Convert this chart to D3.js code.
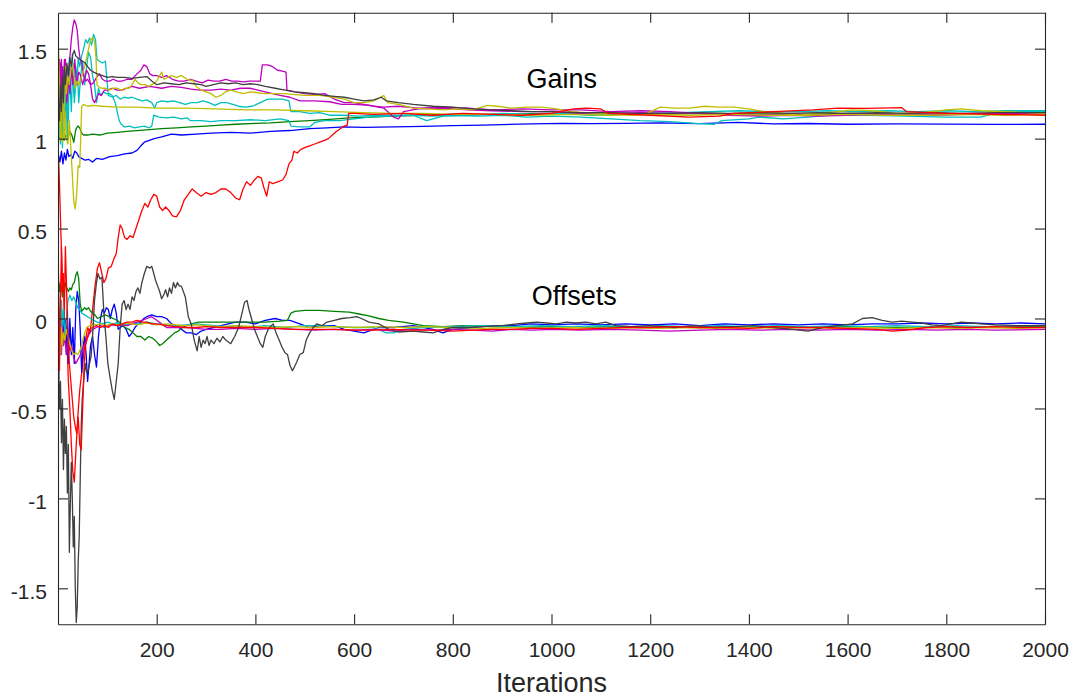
<!DOCTYPE html>
<html>
<head>
<meta charset="utf-8">
<script src="https://cdn.jsdelivr.net/npm/d3@7"></script>
<style>
body { margin: 0; background: #fff; }
text { font-family: "Liberation Sans", Arial, Helvetica, sans-serif; }
</style>
</head>
<body>
<div id="chart"></div>
<script>
//tick labels
var xTicks = [200, 400, 600, 800, 1000, 1200, 1400, 1600, 1800, 2000];
var yTicks = [-1.5, -1, -0.5, 0, 0.5, 1, 1.5];

//gain estimates, [iteration, value]
var gainBlue = [[1,0.91],[4,0.87],[7,0.93],[10,0.86],[13,0.92],[16,0.88],[19,0.94],[22,0.90],[26,0.91],[30,0.89],[34,0.93],[38,0.92],[42,0.90],[48,0.89],[55,0.88],[62,0.885],[70,0.87],[78,0.89],[90,0.885],[105,0.9],[120,0.905],[135,0.915],[150,0.92],[160,0.935],[168,0.96],[175,0.98],[185,0.99],[195,1.0],[210,1.01],[230,1.025],[250,1.02],[280,1.025],[310,1.03],[350,1.035],[390,1.03],[430,1.04],[470,1.045],[510,1.055],[545,1.06],[580,1.065],[620,1.062],[680,1.065],[740,1.068],[800,1.072],[860,1.075],[900,1.078],[960,1.082],[1020,1.085],[1080,1.083],[1150,1.085],[1220,1.087],[1300,1.083],[1378,1.09],[1450,1.082],[1520,1.084],[1600,1.08],[1700,1.082],[1800,1.081],[1900,1.079],[2000,1.08]];
var gainGreen = [[1,1.01],[4,1.0],[8,1.03],[12,0.99],[16,1.02],[20,1.0],[24,1.04],[28,1.02],[32,0.98],[36,1.05],[40,1.07],[44,1.06],[48,1.03],[52,1.02],[60,1.02],[70,1.025],[85,1.02],[100,1.03],[120,1.035],[140,1.04],[160,1.045],[186,1.05],[210,1.055],[240,1.06],[270,1.065],[300,1.07],[330,1.075],[360,1.08],[400,1.085],[430,1.087],[470,1.095],[510,1.1],[550,1.107],[590,1.115],[632,1.12],[680,1.125],[740,1.13],[800,1.135],[900,1.135],[1000,1.14],[1100,1.138],[1200,1.135],[1300,1.14],[1400,1.138],[1500,1.135],[1600,1.14],[1700,1.138],[1800,1.135],[1900,1.14],[2000,1.14]];
var gainRed = [[1,0.9],[3,0.75],[5,0.55],[7,0.38],[9,0.2],[11,0.25],[13,0.0],[15,-0.15],[18,-0.1],[21,-0.35],[24,-0.5],[27,-0.7],[30,-0.85],[33,-0.91],[36,-0.75],[40,-0.55],[44,-0.4],[48,-0.3],[52,-0.2],[56,-0.12],[60,-0.05],[65,-0.08],[70,0.05],[75,0.18],[80,0.28],[84,0.31],[88,0.26],[93,0.2],[97,0.22],[102,0.28],[108,0.29],[113,0.33],[118,0.36],[122,0.45],[126,0.52],[130,0.5],[135,0.45],[140,0.44],[146,0.46],[152,0.45],[158,0.5],[164,0.55],[170,0.6],[176,0.64],[182,0.62],[188,0.66],[194,0.69],[200,0.68],[206,0.62],[212,0.6],[218,0.62],[225,0.6],[232,0.57],[240,0.565],[248,0.6],[256,0.66],[264,0.69],[272,0.72],[280,0.7],[290,0.68],[300,0.7],[310,0.69],[320,0.7],[330,0.72],[340,0.72],[350,0.7],[360,0.67],[368,0.66],[375,0.72],[382,0.76],[390,0.74],[398,0.77],[405,0.79],[412,0.78],[418,0.72],[423,0.68],[428,0.76],[435,0.75],[445,0.76],[455,0.77],[462,0.8],[468,0.86],[474,0.88],[478,0.93],[485,0.92],[492,0.94],[500,0.95],[510,0.96],[520,0.97],[530,0.98],[540,0.99],[548,1.0],[556,1.02],[564,1.04],[572,1.055],[580,1.07],[586,1.075],[589,1.14],[600,1.14],[640,1.135],[700,1.14],[760,1.13],[820,1.14],[880,1.135],[940,1.13],[1000,1.14],[1045,1.165],[1070,1.17],[1100,1.165],[1115,1.14],[1200,1.13],[1280,1.12],[1340,1.125],[1370,1.14],[1450,1.15],[1530,1.16],[1580,1.17],[1640,1.168],[1710,1.172],[1720,1.15],[1800,1.14],[1900,1.135],[2000,1.13]];
var gainCyanA = [[1,1.0],[3,1.15],[5,0.97],[7,1.3],[9,1.05],[11,1.38],[13,1.12],[15,1.42],[17,1.2],[19,1.36],[21,1.1],[23,1.45],[26,1.3],[29,1.47],[32,1.25],[35,1.4],[38,1.3],[41,1.45],[44,1.4],[48,1.46],[52,1.5],[56,1.55],[60,1.53],[64,1.56],[68,1.52],[72,1.58],[76,1.55],[79,1.44],[84,1.43],[90,1.42],[96,1.43],[100,1.3],[102,1.24],[110,1.23],[118,1.24],[126,1.22],[134,1.23],[142,1.225],[150,1.23],[160,1.22],[170,1.21],[180,1.215],[190,1.2],[196,1.17],[200,1.2],[210,1.21],[222,1.205],[234,1.21],[246,1.2],[258,1.19],[270,1.2],[282,1.2],[294,1.21],[306,1.2],[318,1.185],[330,1.2],[342,1.2],[354,1.19],[366,1.18],[380,1.175],[394,1.18],[410,1.2],[425,1.22],[440,1.22],[455,1.22],[468,1.21],[472,1.15],[490,1.15],[510,1.14],[530,1.145],[550,1.13],[580,1.13],[610,1.125],[640,1.13],[680,1.13],[720,1.13],[760,1.125],[800,1.13],[850,1.125],[900,1.13],[950,1.12],[1000,1.125],[1060,1.12],[1120,1.11],[1180,1.1],[1240,1.095],[1290,1.085],[1330,1.08],[1345,1.1],[1400,1.11],[1420,1.12],[1470,1.11],[1520,1.12],[1560,1.13],[1640,1.13],[1720,1.125],[1800,1.12],[1870,1.12],[1910,1.15],[1960,1.15],[2000,1.15]];
var gainCyanB = [[1,1.05],[3,1.3],[5,1.0],[7,1.2],[9,0.95],[11,1.15],[13,1.4],[15,1.05],[17,1.3],[19,1.0],[21,1.25],[24,1.35],[27,1.15],[30,1.42],[33,1.2],[36,1.3],[39,1.4],[42,1.2],[46,1.35],[50,1.43],[54,1.3],[58,1.4],[62,1.48],[66,1.45],[70,1.35],[74,1.3],[78,1.2],[82,1.28],[86,1.24],[92,1.26],[98,1.25],[104,1.25],[110,1.24],[116,1.2],[120,1.15],[124,1.1],[128,1.08],[135,1.065],[145,1.07],[155,1.06],[165,1.065],[175,1.07],[185,1.06],[190,1.07],[194,1.13],[205,1.12],[220,1.115],[235,1.12],[250,1.11],[262,1.115],[268,1.1],[290,1.1],[310,1.095],[330,1.1],[360,1.1],[390,1.105],[420,1.1],[450,1.11],[468,1.1],[472,1.07],[490,1.065],[510,1.065],[520,1.09],[540,1.1],[570,1.1],[600,1.11],[630,1.12],[670,1.125],[720,1.13],[747,1.1],[780,1.125],[840,1.13],[900,1.14],[960,1.135],[1020,1.14],[1080,1.13],[1140,1.135],[1200,1.14],[1260,1.145],[1320,1.15],[1380,1.155],[1440,1.15],[1500,1.15],[1560,1.155],[1620,1.15],[1680,1.155],[1740,1.15],[1800,1.155],[1860,1.15],[1920,1.155],[2000,1.155]];
var gainMagentaA = [[1,1.2],[3,1.44],[5,1.35],[7,1.44],[9,1.22],[11,1.3],[13,1.44],[15,1.3],[18,1.4],[21,1.35],[24,1.45],[27,1.55],[30,1.62],[33,1.66],[36,1.64],[39,1.6],[42,1.5],[45,1.44],[48,1.42],[52,1.35],[56,1.32],[60,1.33],[66,1.3],[72,1.31],[78,1.34],[84,1.36],[90,1.33],[96,1.32],[104,1.32],[112,1.33],[120,1.32],[130,1.32],[140,1.33],[150,1.33],[160,1.36],[168,1.38],[174,1.41],[180,1.4],[186,1.36],[192,1.35],[200,1.35],[210,1.34],[220,1.35],[232,1.33],[244,1.32],[256,1.32],[268,1.33],[280,1.32],[292,1.31],[304,1.325],[316,1.32],[328,1.32],[340,1.33],[352,1.32],[364,1.32],[376,1.315],[388,1.32],[400,1.32],[410,1.32],[414,1.41],[425,1.41],[435,1.4],[445,1.38],[455,1.375],[462,1.37],[464,1.27],[480,1.26],[500,1.25],[520,1.245],[540,1.25],[560,1.22],[580,1.2],[600,1.2],[620,1.19],[640,1.18],[660,1.175],[690,1.18],[730,1.17],[780,1.175],[830,1.17],[880,1.16],[940,1.165],[1000,1.16],[1060,1.16],[1120,1.15],[1180,1.155],[1240,1.15],[1300,1.14],[1360,1.135],[1420,1.13],[1480,1.14],[1540,1.13],[1600,1.14],[1660,1.135],[1720,1.14],[1780,1.135],[1840,1.14],[1900,1.14],[1960,1.14],[2000,1.145]];
var gainMagentaB = [[1,1.3],[3,1.2],[5,1.42],[7,1.25],[9,1.4],[11,1.1],[13,1.3],[15,1.44],[18,1.2],[21,1.35],[24,1.25],[27,1.4],[30,1.3],[34,1.44],[38,1.3],[42,1.37],[46,1.35],[50,1.3],[54,1.34],[58,1.38],[62,1.36],[66,1.3],[70,1.22],[74,1.2],[78,1.22],[82,1.25],[88,1.24],[94,1.27],[100,1.27],[110,1.28],[120,1.27],[130,1.27],[140,1.28],[150,1.29],[165,1.28],[186,1.29],[210,1.28],[230,1.29],[250,1.285],[270,1.275],[288,1.27],[310,1.27],[330,1.275],[350,1.27],[370,1.28],[389,1.28],[405,1.27],[420,1.26],[435,1.25],[450,1.24],[470,1.23],[490,1.21],[520,1.21],[550,1.205],[575,1.19],[600,1.19],[632,1.185],[660,1.17],[680,1.12],[690,1.11],[700,1.15],[730,1.165],[780,1.17],[830,1.16],[880,1.155],[940,1.15],[1000,1.15],[1060,1.14],[1120,1.14],[1180,1.145],[1240,1.14],[1300,1.14],[1360,1.13],[1420,1.125],[1480,1.13],[1540,1.125],[1600,1.13],[1660,1.135],[1720,1.13],[1780,1.13],[1840,1.135],[1900,1.14],[1960,1.135],[2000,1.14]];
var gainYellowA = [[1,1.5],[3,1.3],[5,1.1],[7,1.0],[9,0.98],[11,1.05],[13,1.0],[15,1.15],[17,1.0],[20,0.97],[23,1.1],[26,0.95],[29,0.8],[32,0.65],[35,0.61],[38,0.7],[41,0.85],[44,0.84],[46,1.0],[48,1.18],[52,1.19],[60,1.18],[70,1.185],[90,1.18],[120,1.175],[160,1.175],[200,1.17],[260,1.17],[320,1.165],[380,1.16],[440,1.16],[500,1.155],[560,1.15],[620,1.145],[680,1.14],[740,1.14],[800,1.135],[880,1.135],[960,1.13],[1040,1.135],[1120,1.13],[1200,1.135],[1280,1.13],[1360,1.135],[1440,1.13],[1520,1.13],[1600,1.135],[1680,1.13],[1760,1.13],[1840,1.135],[1920,1.13],[2000,1.135]];
var gainYellowB = [[1,1.1],[3,1.2],[5,1.0],[7,1.15],[9,1.3],[11,1.05],[13,1.2],[15,1.4],[17,1.25],[20,1.35],[23,1.3],[26,1.38],[29,1.42],[32,1.36],[35,1.28],[38,1.32],[42,1.3],[46,1.33],[50,1.36],[54,1.4],[58,1.45],[62,1.5],[66,1.55],[70,1.56],[74,1.54],[77,1.45],[79,1.3],[82,1.29],[88,1.28],[96,1.28],[104,1.27],[112,1.28],[120,1.28],[128,1.27],[136,1.28],[144,1.28],[150,1.3],[156,1.33],[162,1.31],[168,1.3],[176,1.3],[184,1.29],[190,1.3],[196,1.31],[200,1.32],[206,1.35],[210,1.37],[215,1.33],[222,1.34],[230,1.35],[240,1.34],[250,1.35],[262,1.33],[275,1.32],[280,1.29],[290,1.27],[300,1.26],[310,1.25],[320,1.23],[330,1.24],[340,1.26],[350,1.27],[362,1.26],[375,1.25],[390,1.26],[405,1.255],[420,1.25],[440,1.25],[460,1.25],[480,1.245],[500,1.24],[530,1.24],[560,1.23],[580,1.22],[600,1.2],[620,1.2],[640,1.21],[660,1.24],[668,1.2],[690,1.19],[720,1.17],[750,1.165],[780,1.16],[810,1.165],[840,1.16],[870,1.185],[890,1.18],[920,1.17],[950,1.175],[980,1.175],[1010,1.165],[1040,1.15],[1070,1.145],[1100,1.14],[1130,1.14],[1160,1.13],[1190,1.135],[1220,1.175],[1250,1.17],[1280,1.17],[1310,1.18],[1340,1.175],[1370,1.175],[1400,1.165],[1430,1.15],[1460,1.145],[1500,1.13],[1540,1.14],[1580,1.15],[1610,1.16],[1650,1.155],[1700,1.14],[1750,1.145],[1800,1.16],[1830,1.165],[1870,1.155],[1920,1.15],[1960,1.145],[2000,1.14]];
var gainGrey = [[1,1.2],[3,1.1],[5,1.3],[7,1.15],[9,1.35],[11,1.2],[13,1.4],[15,1.3],[18,1.42],[21,1.35],[24,1.45],[27,1.4],[30,1.47],[33,1.49],[36,1.46],[40,1.45],[45,1.44],[50,1.43],[55,1.42],[60,1.4],[66,1.38],[72,1.37],[80,1.36],[90,1.35],[100,1.34],[110,1.345],[120,1.34],[135,1.34],[150,1.335],[165,1.34],[180,1.345],[190,1.32],[200,1.3],[215,1.31],[230,1.305],[245,1.3],[260,1.31],[275,1.305],[290,1.3],[300,1.29],[315,1.3],[330,1.31],[345,1.305],[360,1.31],[375,1.3],[390,1.305],[405,1.3],[420,1.29],[440,1.28],[460,1.27],[480,1.26],[500,1.255],[520,1.25],[540,1.24],[560,1.235],[580,1.23],[600,1.22],[620,1.21],[640,1.215],[655,1.23],[665,1.21],[690,1.2],[720,1.19],[760,1.18],[800,1.175],[840,1.165],[880,1.16],[920,1.155],[960,1.15],[1000,1.15],[1060,1.145],[1120,1.145],[1180,1.14],[1240,1.14],[1300,1.145],[1360,1.14],[1420,1.145],[1480,1.14],[1540,1.145],[1600,1.14],[1660,1.145],[1720,1.14],[1780,1.145],[1840,1.14],[1900,1.145],[2000,1.145]];

//offset estimates, [iteration, value]
var offBlue = [[1,-0.34],[3,0.05],[5,-0.2],[7,0.03],[9,-0.15],[11,0.04],[13,-0.1],[15,-0.01],[17,-0.2],[19,0.05],[21,-0.25],[24,0.0],[27,-0.2],[30,-0.05],[33,-0.25],[36,0.05],[39,0.15],[42,0.1],[45,-0.06],[48,-0.3],[51,-0.15],[54,-0.1],[57,-0.2],[60,-0.35],[63,-0.25],[66,-0.15],[70,-0.1],[74,-0.2],[78,-0.27],[82,-0.1],[86,0.0],[90,0.05],[94,0.03],[98,0.06],[102,0.05],[106,0.0],[110,0.05],[114,0.08],[118,0.03],[122,-0.06],[126,-0.05],[132,-0.04],[138,-0.06],[144,-0.1],[150,-0.08],[156,-0.05],[162,-0.03],[168,-0.02],[174,0.0],[180,0.01],[190,0.02],[200,0.01],[210,0.01],[220,0.0],[230,-0.03],[240,-0.04],[250,-0.06],[260,-0.08],[270,-0.08],[280,-0.09],[290,-0.07],[300,-0.06],[315,-0.05],[330,-0.04],[345,-0.03],[360,-0.02],[380,-0.02],[400,-0.03],[420,-0.01],[440,0.0],[455,-0.01],[470,-0.01],[490,-0.03],[510,-0.05],[530,-0.04],[560,-0.04],[580,-0.06],[600,-0.07],[620,-0.08],[650,-0.05],[680,-0.05],[720,-0.04],[760,-0.06],[780,-0.08],[800,-0.06],[840,-0.05],[880,-0.04],[920,-0.04],[960,-0.03],[1000,-0.035],[1050,-0.03],[1100,-0.035],[1150,-0.03],[1200,-0.035],[1250,-0.03],[1300,-0.04],[1350,-0.03],[1400,-0.035],[1450,-0.03],[1500,-0.035],[1550,-0.03],[1600,-0.035],[1650,-0.03],[1700,-0.03],[1750,-0.025],[1800,-0.03],[1850,-0.025],[1900,-0.03],[1950,-0.025],[2000,-0.03]];
var offGreen = [[1,0.21],[3,0.15],[5,0.2],[7,0.17],[9,0.12],[11,0.18],[13,0.15],[15,0.2],[18,0.17],[21,0.15],[24,0.17],[27,0.16],[30,0.19],[33,0.2],[36,0.24],[39,0.26],[42,0.22],[45,0.08],[48,0.04],[51,0.05],[54,0.06],[58,0.05],[62,0.06],[66,0.04],[70,0.03],[75,0.02],[80,0.0],[88,0.01],[96,0.02],[104,0.01],[112,0.0],[120,-0.01],[128,-0.03],[136,-0.05],[144,-0.06],[152,-0.08],[160,-0.1],[168,-0.1],[176,-0.12],[184,-0.1],[192,-0.11],[200,-0.13],[206,-0.15],[212,-0.14],[220,-0.12],[228,-0.1],[236,-0.08],[244,-0.07],[252,-0.05],[260,-0.04],[270,-0.03],[285,-0.02],[300,-0.02],[330,-0.02],[360,-0.02],[390,-0.02],[420,-0.02],[450,-0.015],[465,-0.01],[472,0.03],[480,0.04],[500,0.045],[530,0.045],[560,0.04],[590,0.035],[610,0.025],[630,0.015],[650,0.0],[670,-0.01],[700,-0.02],[740,-0.04],[780,-0.045],[820,-0.04],[880,-0.045],[940,-0.05],[1000,-0.045],[1060,-0.05],[1120,-0.045],[1180,-0.05],[1240,-0.045],[1300,-0.05],[1360,-0.045],[1420,-0.05],[1480,-0.045],[1540,-0.05],[1600,-0.045],[1660,-0.05],[1720,-0.05],[1780,-0.045],[1840,-0.05],[1900,-0.045],[2000,-0.045]];
var offRed = [[1,0.25],[3,-0.29],[5,0.1],[7,0.4],[9,0.15],[11,0.2],[13,0.05],[15,0.4],[17,0.2],[19,0.0],[21,-0.15],[23,-0.25],[26,-0.35],[29,-0.45],[32,-0.55],[35,-0.6],[38,-0.64],[41,-0.55],[44,-0.7],[47,-0.73],[50,-0.5],[53,-0.25],[56,-0.15],[60,-0.1],[64,-0.06],[70,-0.05],[78,-0.04],[86,-0.05],[94,-0.04],[102,-0.05],[110,-0.03],[120,-0.04],[130,-0.03],[140,-0.02],[150,-0.02],[160,-0.01],[170,-0.02],[180,-0.02],[190,-0.03],[200,-0.03],[220,-0.04],[240,-0.045],[260,-0.05],[280,-0.05],[300,-0.045],[330,-0.05],[360,-0.05],[400,-0.05],[440,-0.055],[480,-0.06],[520,-0.06],[560,-0.06],[600,-0.065],[640,-0.065],[680,-0.06],[720,-0.065],[760,-0.065],[800,-0.07],[840,-0.065],[880,-0.06],[920,-0.06],[960,-0.055],[1000,-0.055],[1050,-0.06],[1100,-0.055],[1150,-0.05],[1200,-0.05],[1250,-0.045],[1300,-0.05],[1350,-0.05],[1400,-0.055],[1450,-0.045],[1500,-0.05],[1550,-0.05],[1600,-0.055],[1660,-0.06],[1690,-0.07],[1720,-0.065],[1760,-0.05],[1800,-0.045],[1850,-0.05],[1900,-0.045],[1950,-0.05],[2000,-0.05]];
var offCyan = [[1,-0.1],[3,0.05],[5,-0.15],[7,0.1],[9,-0.05],[11,0.05],[14,-0.1],[17,0.0],[20,0.1],[24,0.13],[28,0.1],[32,0.12],[36,0.09],[40,0.06],[44,0.05],[48,0.03],[54,0.02],[60,0.01],[66,0.0],[72,-0.01],[80,-0.02],[90,-0.03],[100,-0.02],[110,-0.03],[120,-0.025],[130,-0.03],[140,-0.035],[150,-0.03],[160,-0.025],[170,-0.03],[180,-0.02],[200,-0.03],[220,-0.035],[240,-0.04],[260,-0.035],[280,-0.03],[300,-0.035],[320,-0.04],[340,-0.045],[360,-0.04],[380,-0.05],[400,-0.045],[420,-0.04],[440,-0.045],[460,-0.05],[480,-0.045],[500,-0.04],[530,-0.04],[560,-0.045],[600,-0.05],[640,-0.05],[665,-0.08],[680,-0.08],[700,-0.06],[740,-0.05],[800,-0.045],[860,-0.04],[920,-0.045],[980,-0.04],[1040,-0.045],[1100,-0.04],[1160,-0.045],[1220,-0.04],[1280,-0.045],[1340,-0.04],[1400,-0.045],[1460,-0.04],[1520,-0.045],[1580,-0.04],[1640,-0.045],[1700,-0.04],[1760,-0.045],[1820,-0.04],[1880,-0.045],[1940,-0.04],[2000,-0.04]];
var offMagenta = [[1,-0.05],[3,-0.15],[5,0.0],[7,-0.2],[9,-0.05],[11,-0.15],[14,-0.1],[17,-0.2],[20,-0.12],[24,-0.18],[28,-0.15],[32,-0.22],[36,-0.25],[40,-0.23],[44,-0.21],[48,-0.18],[52,-0.15],[58,-0.12],[64,-0.08],[70,-0.06],[78,-0.05],[86,-0.04],[94,-0.05],[102,-0.04],[110,-0.035],[120,-0.04],[130,-0.035],[140,-0.04],[150,-0.03],[160,-0.02],[170,-0.01],[180,0.0],[190,0.01],[200,-0.01],[210,-0.03],[220,-0.05],[240,-0.05],[260,-0.05],[280,-0.055],[300,-0.06],[330,-0.06],[360,-0.055],[400,-0.06],[440,-0.055],[480,-0.06],[520,-0.065],[560,-0.06],[600,-0.065],[640,-0.06],[680,-0.07],[720,-0.06],[760,-0.065],[800,-0.06],[840,-0.065],[880,-0.07],[920,-0.06],[960,-0.065],[1000,-0.06],[1060,-0.065],[1120,-0.06],[1180,-0.065],[1240,-0.07],[1300,-0.065],[1360,-0.06],[1420,-0.065],[1480,-0.06],[1540,-0.065],[1600,-0.06],[1660,-0.065],[1720,-0.06],[1780,-0.065],[1840,-0.06],[1900,-0.065],[2000,-0.06]];
var offYellow = [[1,-0.1],[3,0.05],[5,-0.2],[7,-0.05],[9,-0.15],[11,-0.08],[14,-0.12],[17,-0.06],[20,-0.1],[24,-0.14],[28,-0.18],[32,-0.2],[36,-0.19],[40,-0.2],[44,-0.18],[48,-0.15],[52,-0.1],[58,-0.05],[64,-0.04],[70,-0.03],[78,-0.035],[86,-0.03],[94,-0.04],[102,-0.035],[110,-0.03],[120,-0.035],[130,-0.03],[140,-0.025],[150,-0.03],[160,-0.035],[170,-0.03],[180,-0.025],[190,-0.03],[200,-0.035],[220,-0.03],[240,-0.035],[260,-0.04],[280,-0.035],[300,-0.04],[330,-0.045],[360,-0.04],[400,-0.045],[440,-0.05],[480,-0.045],[520,-0.05],[560,-0.045],[600,-0.05],[650,-0.045],[700,-0.05],[750,-0.045],[800,-0.05],[860,-0.055],[920,-0.05],[980,-0.055],[1040,-0.05],[1100,-0.055],[1160,-0.05],[1220,-0.055],[1280,-0.05],[1340,-0.055],[1400,-0.05],[1460,-0.055],[1520,-0.05],[1580,-0.055],[1640,-0.05],[1700,-0.055],[1760,-0.05],[1820,-0.055],[1880,-0.05],[1940,-0.055],[2000,-0.05]];
var offGrey = [[1,-0.2],[3,-0.5],[5,-0.35],[7,-0.69],[9,-0.45],[11,-0.84],[13,-0.56],[15,-0.75],[17,-0.6],[19,-0.97],[21,-0.7],[23,-1.3],[25,-1.03],[27,-0.8],[29,-1.0],[31,-1.27],[33,-1.1],[35,-1.5],[37,-1.69],[39,-1.6],[41,-1.35],[43,-1.21],[45,-0.9],[47,-0.6],[49,-0.45],[52,-0.35],[55,-0.25],[58,-0.3],[61,-0.29],[64,-0.25],[67,-0.21],[70,-0.1],[74,0.1],[78,0.2],[81,0.25],[85,0.22],[89,0.23],[93,0.03],[97,-0.1],[101,-0.25],[105,-0.32],[110,-0.4],[114,-0.45],[118,-0.35],[122,-0.25],[126,-0.05],[130,0.08],[134,0.1],[138,0.05],[142,0.08],[146,0.05],[150,0.12],[154,0.1],[158,0.15],[162,0.17],[166,0.14],[170,0.2],[175,0.25],[180,0.29],[186,0.28],[190,0.29],[194,0.25],[198,0.21],[202,0.18],[206,0.15],[210,0.11],[214,0.13],[218,0.16],[222,0.12],[226,0.17],[230,0.14],[234,0.2],[238,0.17],[242,0.2],[246,0.18],[250,0.18],[258,0.12],[264,0.01],[270,-0.03],[276,-0.12],[282,-0.18],[286,-0.1],[290,-0.16],[294,-0.12],[298,-0.14],[302,-0.1],[306,-0.15],[310,-0.12],[316,-0.14],[322,-0.11],[328,-0.13],[334,-0.1],[340,-0.12],[350,-0.14],[358,-0.1],[366,-0.05],[372,0.02],[378,0.09],[383,0.1],[387,0.05],[392,0.0],[398,-0.06],[404,-0.1],[410,-0.14],[415,-0.16],[420,-0.1],[426,-0.06],[432,-0.04],[436,-0.03],[442,-0.08],[448,-0.12],[454,-0.16],[460,-0.19],[465,-0.2],[470,-0.26],[475,-0.29],[479,-0.27],[484,-0.24],[490,-0.2],[497,-0.19],[503,-0.12],[510,-0.08],[517,-0.05],[524,-0.03],[535,-0.04],[545,-0.02],[560,-0.01],[575,0.0],[592,0.005],[605,0.01],[615,0.0],[630,-0.02],[650,-0.03],[670,-0.06],[690,-0.075],[720,-0.07],[740,-0.075],[760,-0.08],[780,-0.06],[800,-0.05],[830,-0.05],[860,-0.045],[900,-0.04],[930,-0.03],[950,-0.025],[970,-0.02],[990,-0.025],[1010,-0.03],[1030,-0.02],[1050,-0.025],[1070,-0.02],[1090,-0.03],[1110,-0.02],[1130,-0.04],[1160,-0.045],[1200,-0.04],[1250,-0.05],[1290,-0.04],[1330,-0.05],[1370,-0.045],[1410,-0.04],[1450,-0.05],[1490,-0.06],[1520,-0.07],[1550,-0.05],[1580,-0.04],[1610,-0.03],[1630,0.0],[1650,0.005],[1670,-0.01],[1690,-0.02],[1710,-0.015],[1730,-0.02],[1750,-0.025],[1770,-0.035],[1790,-0.04],[1810,-0.03],[1830,-0.02],[1850,-0.025],[1870,-0.03],[1900,-0.035],[1950,-0.04],[2000,-0.04]];

//matlab line colours
var colors = {b:'#0000ff', g:'#008000', r:'#ff0000', c:'#00bfbf', m:'#bf00bf', y:'#bfbf00', k:'#404040'};

//draw order: gains first, then offsets (red last so it sits on top)
var series = [
  {values:gainBlue, color:colors.b},
  {values:gainGreen, color:colors.g},
  {values:gainCyanA, color:colors.c},
  {values:gainCyanB, color:colors.c},
  {values:gainMagentaA, color:colors.m},
  {values:gainMagentaB, color:colors.m},
  {values:gainYellowA, color:colors.y},
  {values:gainYellowB, color:colors.y},
  {values:gainGrey, color:colors.k},
  {values:gainRed, color:colors.r},
  {values:offBlue, color:colors.b},
  {values:offGreen, color:colors.g},
  {values:offCyan, color:colors.c},
  {values:offMagenta, color:colors.m},
  {values:offYellow, color:colors.y},
  {values:offGrey, color:colors.k},
  {values:offRed, color:colors.r}
];

var axisColor = '#262626';
var box = {left:58, right:1045, top:12.7, bottom:624.3};

var svg = d3.select('#chart').append('svg')
  .attr('width', 1070)
  .attr('height', 698);

var x = d3.scaleLinear().domain([0, 2000]).range([box.left, box.right]);
var y = d3.scaleLinear().domain([-1.7, 1.7]).range([box.bottom, box.top]);

svg.append('clipPath').attr('id', 'plotclip')
  .append('rect')
  .attr('x', box.left)
  .attr('y', box.top)
  .attr('width', box.right - box.left)
  .attr('height', box.bottom - box.top);

var line = d3.line()
  .x(function(d){ return x(d[0]); })
  .y(function(d){ return y(d[1]); });

var plot = svg.append('g').attr('clip-path', 'url(#plotclip)');
plot.selectAll('.trace')
  .data(series)
  .enter()
  .append('path')
  .attr('class', 'trace')
  .attr('d', function(d){ return line(d.values); })
  .attr('fill', 'none')
  .attr('stroke', function(d){ return d.color; })
  .attr('stroke-width', 1.3)
  .attr('stroke-linejoin', 'round');

function styleAxis(g){
  g.attr('font-size', 21);
  g.selectAll('path, line').attr('stroke', axisColor).attr('stroke-width', 1.1);
  g.selectAll('text').attr('fill', axisColor);
}

//plain number labels, no thousands separator, hyphen minus
function plainLabel(d){ return String(d); }

//four-sided box with inward ticks, labels only bottom and left
svg.append('g')
  .attr('transform', 'translate(0,' + box.bottom + ')')
  .call(d3.axisBottom(x).tickValues(xTicks).tickSizeInner(-10).tickSizeOuter(0).tickPadding(18)
    .tickFormat(plainLabel))
  .call(styleAxis);
svg.append('g')
  .attr('transform', 'translate(0,' + box.top + ')')
  .call(d3.axisTop(x).tickValues(xTicks).tickSizeInner(-10).tickSizeOuter(0).tickFormat(''))
  .call(styleAxis);
svg.append('g')
  .attr('transform', 'translate(' + box.left + ',0)')
  .call(d3.axisLeft(y).tickValues(yTicks).tickSizeInner(-10).tickSizeOuter(0).tickPadding(11)
    .tickFormat(plainLabel))
  .call(styleAxis)
  .selectAll('text').attr('dy', '0.47em');
svg.append('g')
  .attr('transform', 'translate(' + box.right + ',0)')
  .call(d3.axisRight(y).tickValues(yTicks).tickSizeInner(-10).tickSizeOuter(0).tickFormat(''))
  .call(styleAxis);

//annotations
svg.append('text')
  .attr('x', x(1021))
  .attr('y', y(1.283))
  .attr('text-anchor', 'middle')
  .attr('font-size', 27)
  .attr('fill', '#000')
  .text('Gains');
svg.append('text')
  .attr('x', x(1046))
  .attr('y', y(0.074))
  .attr('text-anchor', 'middle')
  .attr('font-size', 27)
  .attr('fill', '#000')
  .text('Offsets');
svg.append('text')
  .attr('x', (box.left + box.right) / 2)
  .attr('y', 692)
  .attr('text-anchor', 'middle')
  .attr('font-size', 27)
  .attr('fill', axisColor)
  .text('Iterations');
</script>
</body>
</html>
